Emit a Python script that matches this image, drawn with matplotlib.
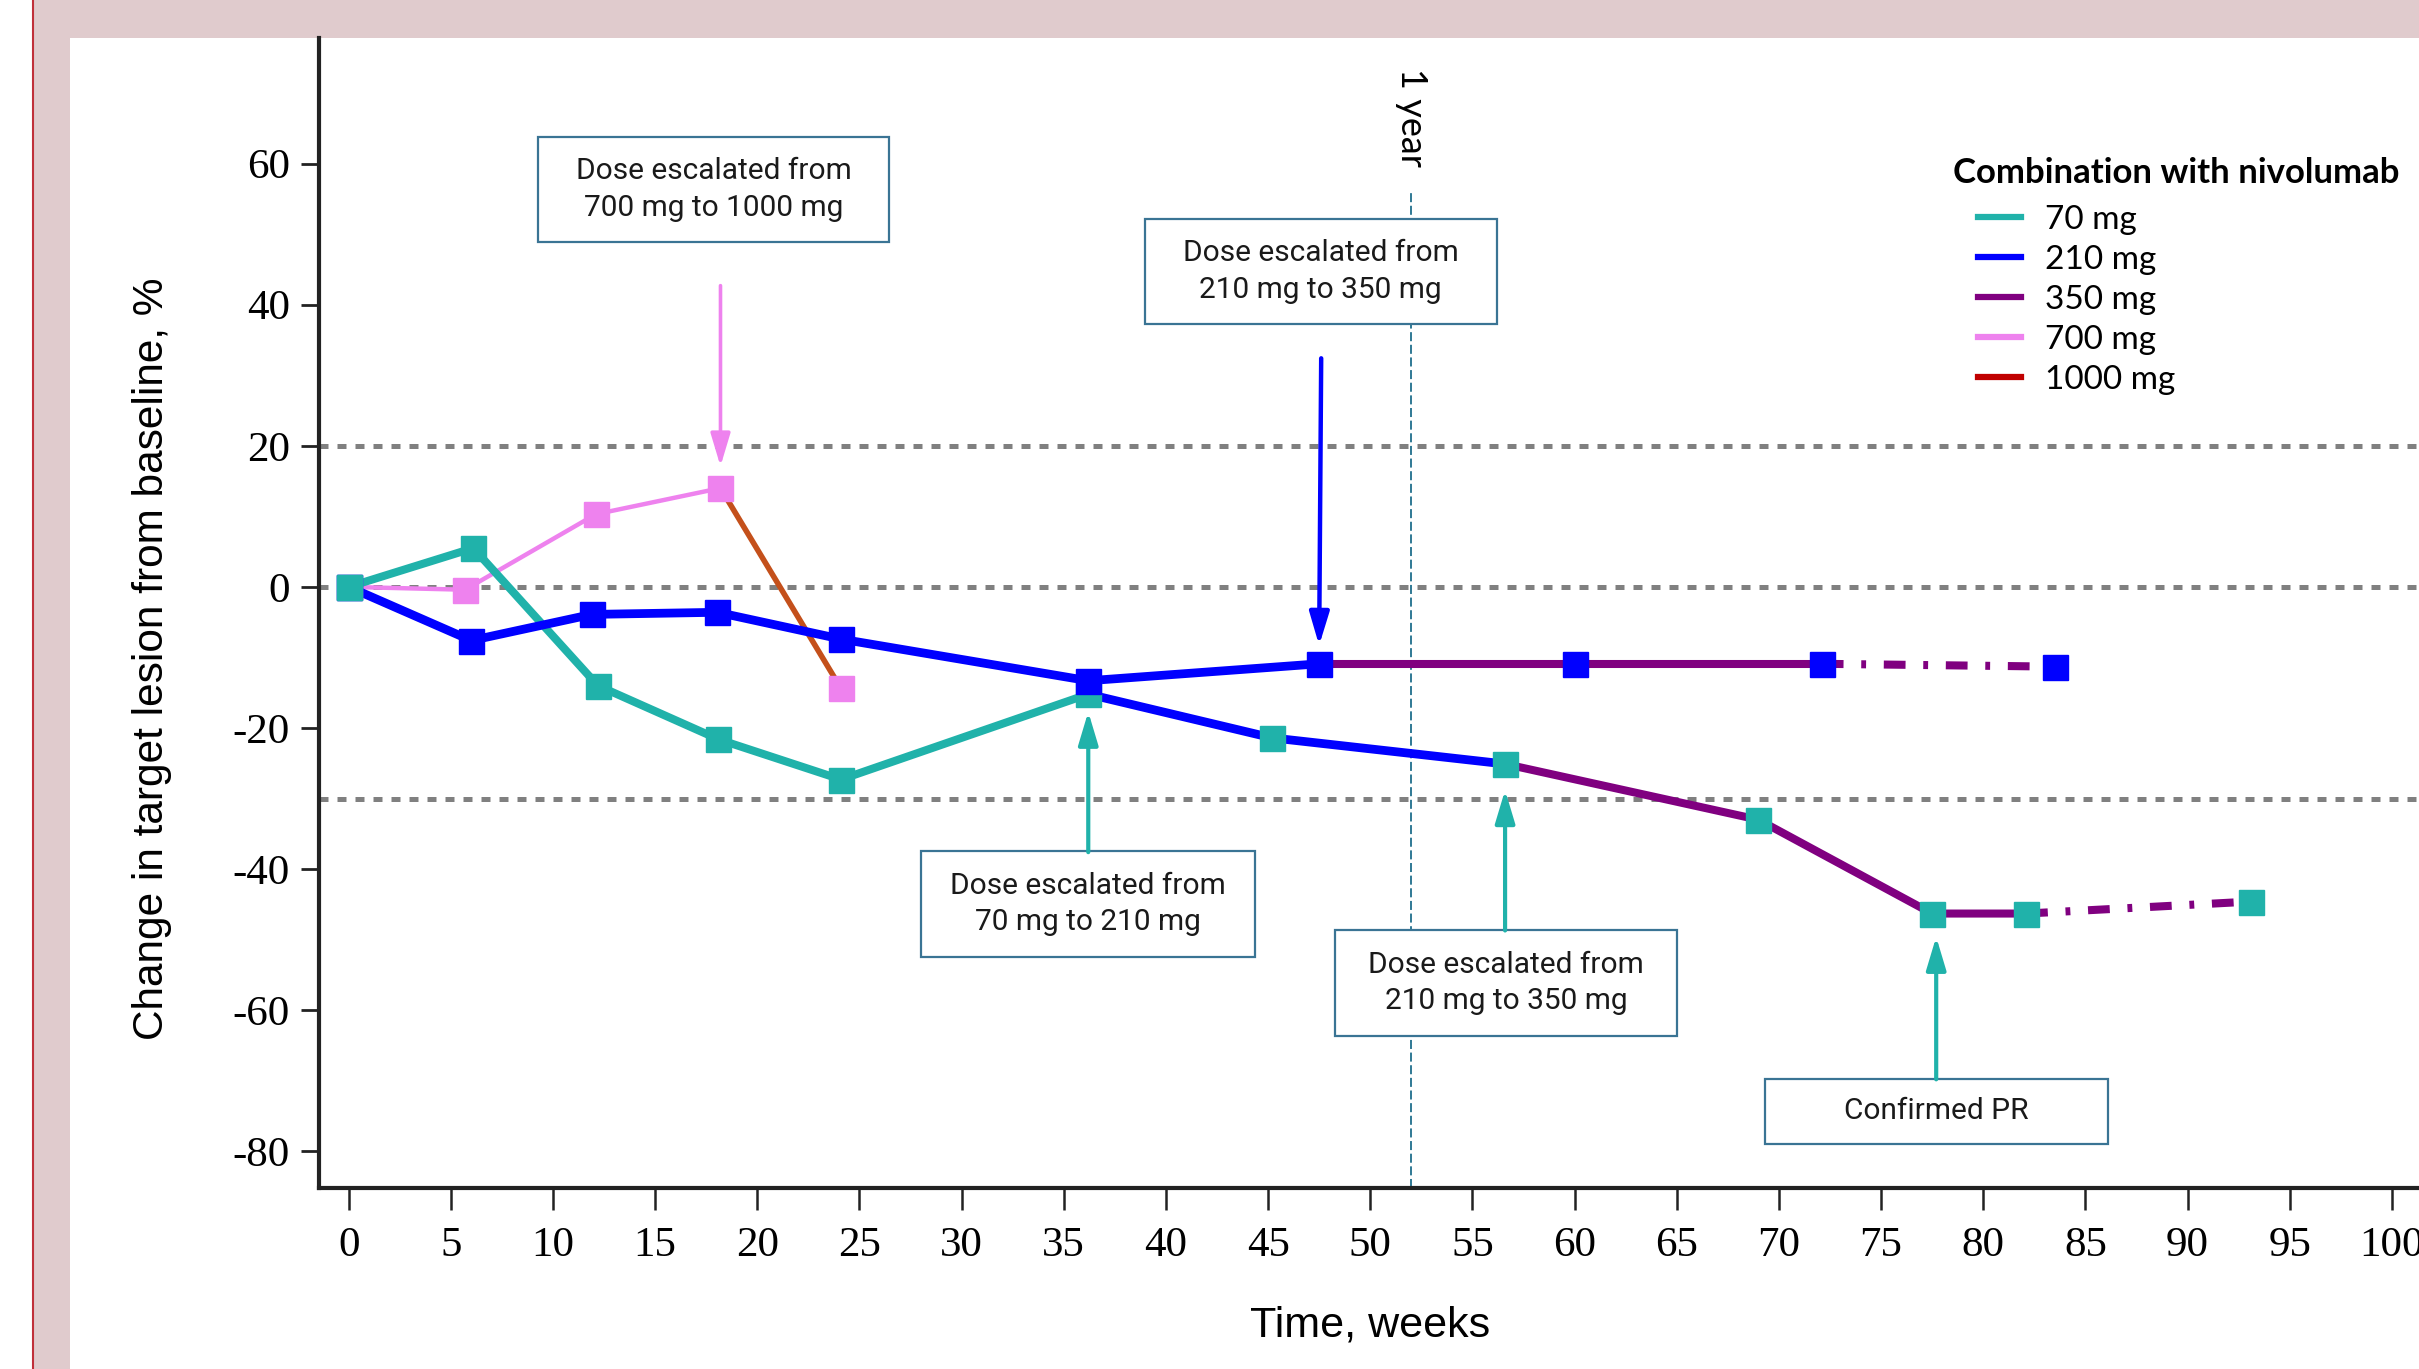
import matplotlib
matplotlib.use("Agg")
import matplotlib.pyplot as plt
from matplotlib.patches import Rectangle
from matplotlib.lines import Line2D

# patient who started at 70 mg
p70_weeks = [0, 6.1, 12.2, 18.1, 24.1, 36.2, 45.2, 56.6, 69.0, 77.5, 82.1, 93.1]
p70_change = [0, 5.5, -14.0, -21.6, -27.3, -15.2, -21.4, -25.1, -33.0, -46.3, -46.3, -44.6]
# (start index, end index, dose colour key, style)
p70_segments = [(0, 5, "70", "solid"), (5, 7, "210", "solid"),
                (7, 10, "350", "solid"), (10, 11, "350", "dashdot")]

# patient who started at 210 mg
p210_weeks = [0, 6.0, 11.9, 18.05, 24.1, 36.2, 47.5, 60.0, 72.1, 83.5]
p210_change = [0, -7.6, -3.9, -3.6, -7.4, -13.3, -10.9, -10.9, -10.9, -11.3]
p210_segments = [(0, 6, "210", "solid"), (6, 8, "350", "solid"), (8, 9, "350", "dashdot")]

# patient who started at 700 mg
p700_weeks = [0, 5.7, 12.1, 18.2, 24.1]
p700_change = [0, -0.4, 10.3, 14.0, -14.4]
p700_segments = [(0, 3, "700", "solid"), (3, 4, "1000seg", "solid")]

dose_labels = ["70 mg", "210 mg", "350 mg", "700 mg", "1000 mg"]
colors = {"70": "#20b2aa", "210": "#0000ff", "350": "#800080", "700": "#ee82ee",
          "1000": "#c00000", "1000seg": "#c4501b"}
widths = {"70": 5.8, "210": 6.3, "350": 5.8, "700": 3.2, "1000seg": 4}

ref_lines = [20, 0, -30]
x_ticks = list(range(0, 101, 5))
y_ticks = [60, 40, 20, 0, -20, -40, -60, -80]

W, H = 2419, 1369
fig = plt.figure(figsize=(W / 100, H / 100), dpi=100)

# slide frame
pink = "#e0cbcd"
fig.patches.append(Rectangle((32 / W, 0), 38 / W, 1, transform=fig.transFigure,
                             facecolor=pink, edgecolor="none", zorder=-2))
fig.patches.append(Rectangle((32 / W, 1 - 38 / H), 1, 38 / H, transform=fig.transFigure,
                             facecolor=pink, edgecolor="none", zorder=-2))
fig.lines.append(Line2D([32.5 / W, 32.5 / W], [0, 1], transform=fig.transFigure,
                        color="#c0303a", lw=1.5, zorder=-1))

ax = fig.add_axes([319 / W, 1 - 1188 / H, 1 - 319 / W, (1188 - 38) / H])
ax.set_facecolor("none")
ax.set_xlim(-1.45, 101.33)
ax.set_ylim(-85.2, 77.8)

for y in ref_lines:
    ax.axhline(y, color="#808080", lw=3.6, dashes=(1.8, 1.8), zorder=2)

ax.vlines(52, -85.2, 55.8, color="#1f6e8c", lw=1.3, linestyles=(0, (5, 2)), zorder=2)
ax.text(52, 66.6, "1 year", rotation=270, ha="center", va="center",
        fontsize=26, family="Lato")


def draw_patient(weeks, change, segments, marker_color, z):
    for i0, i1, key, style in segments:
        kw = dict(color=colors[key], lw=widths[key], zorder=3,
                  solid_capstyle="butt")
        if style == "dashdot":
            kw["dashes"] = (2.7, 2.2, 0.6, 2.2)
        ax.plot(weeks[i0:i1 + 1], change[i0:i1 + 1], **kw)
    ax.plot(weeks, change, ls="none", marker="s", ms=18, color=marker_color,
            mec=marker_color, zorder=z)


draw_patient(p700_weeks, p700_change, p700_segments, colors["700"], 4)
draw_patient(p70_weeks, p70_change, p70_segments, colors["70"], 5)
draw_patient(p210_weeks, p210_change, p210_segments, colors["210"], 6)
# baseline marker of the 70 mg patient sits on top
ax.plot(p70_weeks[0], p70_change[0], ls="none", marker="s", ms=18,
        color=colors["70"], zorder=7)

# annotation boxes: (x0, x1, y0, y1, text)
boxes = [
    (9.29, 26.43, 48.85, 63.7, "Dose escalated from\n700 mg to 1000 mg"),
    (38.97, 56.19, 37.23, 52.13, "Dose escalated from\n210 mg to 350 mg"),
    (28.02, 44.34, -52.4, -37.5, "Dose escalated from\n70 mg to 210 mg"),
    (48.26, 65.03, -63.6, -48.7, "Dose escalated from\n210 mg to 350 mg"),
    (69.34, 86.1, -78.9, -69.7, "Confirmed PR"),
]
for x0, x1, y0, y1, txt in boxes:
    ax.add_patch(Rectangle((x0, y0), x1 - x0, y1 - y0, facecolor="white",
                           edgecolor="#3a7494", lw=1.6, zorder=8))
    ax.text((x0 + x1) / 2, (y0 + y1) / 2, txt, ha="center", va="center",
            fontsize=21.5, family="Roboto", linespacing=1.4, color="#1a1a1a", zorder=9)

# arrows: (x_from, y_from, x_to, y_to, colour, width)
arrows = [
    (18.2, 42.7, 18.2, 17.1, colors["700"], 2.6),
    (47.6, 32.4, 47.5, -8.3, colors["210"], 3.2),
    (36.2, -37.6, 36.2, -17.7, colors["70"], 3),
    (56.6, -48.7, 56.6, -28.8, colors["70"], 3),
    (77.7, -69.8, 77.7, -49.6, colors["70"], 3),
]
for xa, ya, xb, yb, c, lw in arrows:
    ax.annotate("", xy=(xb, yb), xytext=(xa, ya),
                arrowprops=dict(arrowstyle="-|>,head_length=1.0,head_width=0.3",
                                color=c, lw=lw, shrinkA=0, shrinkB=0,
                                mutation_scale=20), zorder=10)

# axes styling
for s in ["top", "right"]:
    ax.spines[s].set_visible(False)
for s in ["left", "bottom"]:
    ax.spines[s].set_linewidth(3)
    ax.spines[s].set_color("#222222")
ax.set_xticks(x_ticks)
ax.set_yticks(y_ticks)
ax.set_xticklabels([str(t) for t in x_ticks], family="Liberation Serif", fontsize=31)
ax.set_yticklabels([str(t) for t in y_ticks], family="Liberation Serif", fontsize=31)
ax.tick_params(axis="x", length=16, width=1.8, pad=12, color="#222222")
ax.tick_params(axis="y", length=13, width=2, pad=8, color="#222222")

fig.text(1370 / W, 1 - 1326 / H, "Time, weeks", ha="center", va="center",
         fontsize=31, family="Liberation Sans")
fig.text(152 / W, 1 - 659 / H, "Change in target lesion from baseline, %",
         rotation=90, ha="center", va="center", fontsize=30.5, family="Liberation Sans")

# legend
fig.text(1953 / W, 1 - 173 / H, "Combination with nivolumab", ha="left", va="center",
         fontsize=25, family="Lato", weight="bold")
handles = [Line2D([], [], color=colors[k], lw=4.5) for k in ["70", "210", "350", "700", "1000"]]
leg = ax.legend(handles, dose_labels, loc="upper left",
                bbox_to_anchor=(1978 / W, 1 - 205 / H),
                bbox_transform=fig.transFigure, frameon=False,
                prop={"family": "Lato", "size": 24},
                handlelength=1.3, handletextpad=0.7, labelspacing=0.3,
                borderpad=0, borderaxespad=0)

fig.savefig("out.png", dpi=100)
